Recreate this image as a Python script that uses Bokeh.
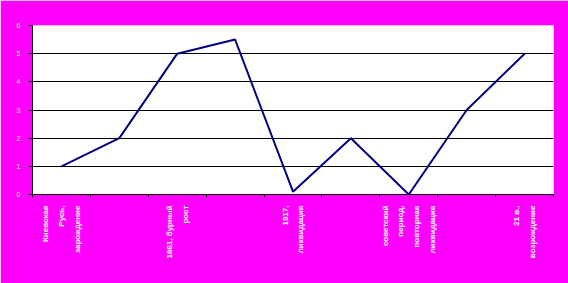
from bokeh.plotting import figure
from bokeh.models import FixedTicker, LinearAxis, Range1d
from bokeh.embed import file_html
from bokeh.resources import INLINE

positions = [1, 2, 3, 4, 5, 6, 7, 8, 9]
values = [1, 2, 5, 5.5, 0.1, 2, 0, 3, 5]
label_positions = [1, 3, 5, 7, 9]
labels = ["Киевская\nРусь,\nзарождение", "1861, бурный\nрост", "1917,\nликвидация",
          "советский\nпериод,\nповторная\nликвидация", "21 в.,\nвозрождение"]
boundaries = [0.5, 1.5, 2.5, 3.5, 4.5, 5.5, 6.5, 7.5, 8.5, 9.5]
y_ticks = [0, 1, 2, 3, 4, 5, 6]
grid_ticks = [1, 2, 3, 4, 5]

p = figure(width=568, height=283, output_backend="svg", toolbar_location=None,
           x_range=Range1d(0.5, 9.5), y_range=Range1d(0, 6),
           x_axis_location=None, y_axis_location=None)
p.background_fill_color = "white"
p.border_fill_color = "#ff00ff"
p.outline_line_color = None
p.min_border_left = 32
p.min_border_right = 15
p.min_border_top = 25
p.min_border_bottom = 89

# y axis
yax = LinearAxis(ticker=FixedTicker(ticks=y_ticks))
yax.axis_line_color = "black"
yax.major_tick_line_color = "black"
yax.major_tick_out = 4
yax.major_tick_in = 0
yax.minor_tick_line_color = None
yax.major_label_text_font = "Arial"
yax.major_label_text_font_size = "7px"
yax.major_label_text_color = "#e8e8e8"
yax.major_label_standoff = 8
p.add_layout(yax, "left")

# x axis: labels at category centres, tick marks at category boundaries
xax = LinearAxis(ticker=FixedTicker(ticks=label_positions, minor_ticks=boundaries))
xax.major_label_overrides = {pos: lab for pos, lab in zip(label_positions, labels)}
xax.axis_line_color = "black"
xax.major_tick_line_color = None
xax.major_tick_out = 0
xax.major_tick_in = 0
xax.minor_tick_line_color = "black"
xax.minor_tick_out = 3
xax.minor_tick_in = 0
xax.major_label_orientation = 1.5708
xax.major_label_text_font = "Arial"
xax.major_label_text_font_style = "bold"
xax.major_label_text_font_size = "8px"
xax.major_label_text_color = "white"
xax.major_label_text_line_height = 1.75
xax.major_label_standoff = 8
p.add_layout(xax, "below")

p.xgrid.visible = False
p.ygrid.ticker = FixedTicker(ticks=grid_ticks)
p.ygrid.grid_line_color = "black"
p.ygrid.grid_line_width = 1

p.line(positions, values, line_color="#000080", line_width=2)

open("out.html", "w").write(file_html(p, INLINE))
